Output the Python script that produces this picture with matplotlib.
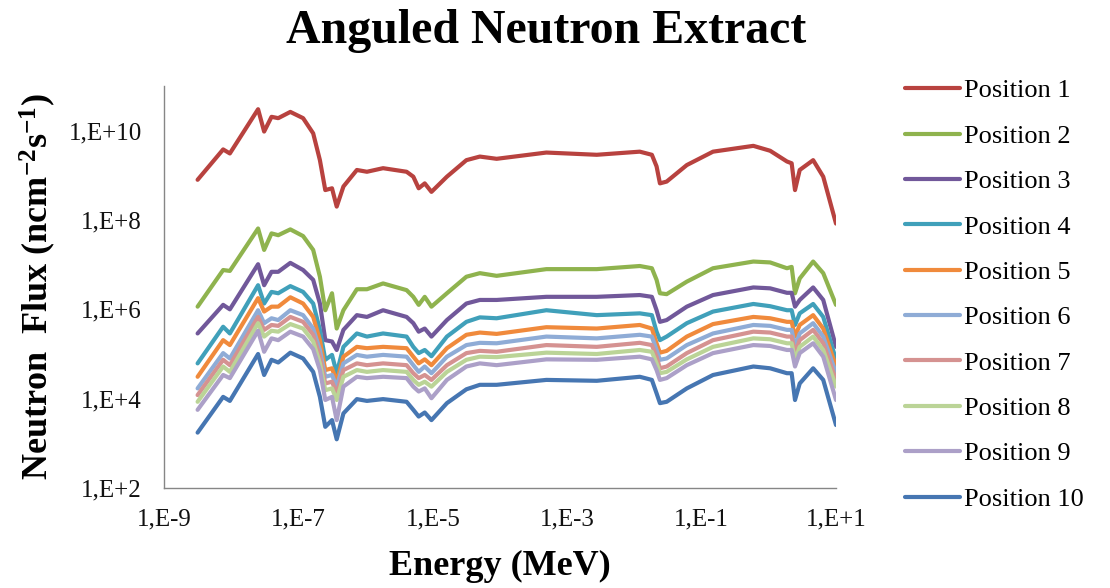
import numpy as np
import matplotlib
matplotlib.use("Agg")
import matplotlib.pyplot as plt
from matplotlib.ticker import FixedLocator, FuncFormatter, NullLocator

# ---- data (log10 of energy in MeV, log10 of flux) ----
energy_exp = [-8.50, -8.12, -8.02, -7.60, -7.51, -7.40, -7.30, -7.12, -6.93, -6.78,
              -6.68, -6.60, -6.50, -6.43, -6.33, -6.13, -5.98, -5.74, -5.39, -5.29,
              -5.21, -5.12, -5.02, -4.79, -4.50, -4.30, -4.05, -3.31, -2.56, -1.92,
              -1.74, -1.67, -1.62, -1.52, -1.22, -0.83, -0.23, 0.02, 0.27, 0.34,
              0.39, 0.46, 0.66, 0.81, 1.00]

pos1 = [8.90, 9.58, 9.49, 10.48, 9.98, 10.31, 10.28, 10.42, 10.28, 9.94,
        9.34, 8.67, 8.71, 8.30, 8.75, 9.12, 9.08, 9.16, 9.08, 8.97,
        8.71, 8.82, 8.63, 8.97, 9.34, 9.42, 9.37, 9.51, 9.46, 9.53,
        9.46, 9.20, 8.82, 8.86, 9.23, 9.53, 9.66, 9.55, 9.31, 9.27,
        8.67, 9.12, 9.34, 8.97, 7.92]
pos2 = [6.06, 6.88, 6.86, 7.81, 7.33, 7.70, 7.66, 7.79, 7.64, 7.33,
        6.73, 5.98, 6.36, 5.57, 5.98, 6.45, 6.45, 6.58, 6.43, 6.28,
        6.10, 6.28, 6.06, 6.36, 6.73, 6.81, 6.75, 6.90, 6.90, 6.97,
        6.92, 6.66, 6.36, 6.34, 6.62, 6.92, 7.07, 7.05, 6.92, 6.95,
        6.36, 6.69, 7.07, 6.81, 6.10]
pos3 = [5.46, 6.10, 6.00, 7.01, 6.54, 6.84, 6.84, 7.04, 6.88, 6.66,
        6.13, 5.31, 5.28, 5.09, 5.54, 5.87, 5.83, 5.98, 5.83, 5.69,
        5.50, 5.57, 5.39, 5.76, 6.13, 6.21, 6.21, 6.28, 6.28, 6.32,
        6.28, 5.98, 5.72, 5.76, 6.06, 6.32, 6.49, 6.47, 6.37, 6.37,
        6.06, 6.21, 6.49, 6.21, 5.16]
pos4 = [4.79, 5.61, 5.46, 6.54, 6.13, 6.39, 6.36, 6.52, 6.39, 6.13,
        5.54, 4.87, 4.98, 4.57, 5.16, 5.46, 5.39, 5.46, 5.39, 5.16,
        5.02, 5.09, 4.95, 5.39, 5.72, 5.82, 5.80, 5.98, 5.87, 5.91,
        5.87, 5.50, 5.31, 5.39, 5.69, 5.95, 6.12, 6.07, 5.98, 5.98,
        5.65, 5.91, 6.12, 5.83, 4.87]
pos5 = [4.49, 5.31, 5.20, 6.25, 5.95, 6.06, 6.06, 6.27, 6.13, 5.83,
        5.31, 4.64, 4.68, 4.38, 4.94, 5.16, 5.13, 5.16, 5.13, 4.94,
        4.79, 4.88, 4.75, 5.13, 5.43, 5.48, 5.45, 5.60, 5.57, 5.65,
        5.57, 5.24, 5.03, 5.07, 5.39, 5.67, 5.83, 5.80, 5.72, 5.72,
        5.39, 5.65, 5.87, 5.57, 4.72]
pos6 = [4.23, 5.02, 4.90, 5.98, 5.69, 5.80, 5.76, 5.98, 5.87, 5.57,
        5.09, 4.49, 4.53, 4.27, 4.79, 4.98, 4.94, 4.98, 4.94, 4.75,
        4.60, 4.72, 4.57, 4.94, 5.20, 5.25, 5.24, 5.39, 5.35, 5.43,
        5.39, 5.09, 4.87, 4.90, 5.20, 5.46, 5.65, 5.63, 5.54, 5.54,
        5.16, 5.46, 5.69, 5.39, 4.57]
pos7 = [4.08, 4.87, 4.75, 5.83, 5.54, 5.65, 5.63, 5.83, 5.72, 5.43,
        4.94, 4.34, 4.38, 4.12, 4.64, 4.79, 4.75, 4.79, 4.75, 4.57,
        4.46, 4.53, 4.42, 4.75, 5.02, 5.07, 5.05, 5.20, 5.16, 5.25,
        5.20, 4.94, 4.68, 4.72, 5.02, 5.31, 5.50, 5.48, 5.39, 5.39,
        5.02, 5.31, 5.54, 5.24, 4.42]
pos8 = [3.93, 4.72, 4.60, 5.69, 5.39, 5.52, 5.50, 5.67, 5.57, 5.28,
        4.79, 4.19, 4.23, 3.97, 4.49, 4.64, 4.60, 4.64, 4.60, 4.42,
        4.31, 4.38, 4.27, 4.60, 4.87, 4.94, 4.93, 5.03, 5.00, 5.09,
        5.05, 4.79, 4.57, 4.60, 4.88, 5.16, 5.35, 5.33, 5.24, 5.24,
        4.87, 5.16, 5.39, 5.09, 4.27]
pos9 = [3.75, 4.53, 4.46, 5.52, 5.05, 5.35, 5.31, 5.50, 5.39, 5.11,
        4.64, 3.97, 4.04, 3.52, 4.27, 4.49, 4.46, 4.49, 4.46, 4.27,
        4.16, 4.23, 4.01, 4.42, 4.72, 4.79, 4.75, 4.88, 4.87, 4.94,
        4.88, 4.64, 4.42, 4.46, 4.75, 5.02, 5.20, 5.18, 5.09, 5.09,
        4.72, 5.02, 5.24, 4.94, 3.97]
pos10 = [3.24, 4.04, 3.95, 5.00, 4.53, 4.87, 4.81, 5.03, 4.90, 4.60,
         4.04, 3.37, 3.52, 3.09, 3.67, 3.99, 3.95, 3.99, 3.93, 3.75,
         3.60, 3.69, 3.52, 3.90, 4.21, 4.31, 4.31, 4.42, 4.40, 4.49,
         4.42, 4.12, 3.90, 3.93, 4.23, 4.53, 4.72, 4.68, 4.57, 4.57,
         3.97, 4.34, 4.68, 4.42, 3.41]

series = [pos1, pos2, pos3, pos4, pos5, pos6, pos7, pos8, pos9, pos10]
labels = [f"Position {i}" for i in range(1, 11)]
colors = ["#B8423F", "#8FB34E", "#71589A", "#40A0BA", "#F08A3C",
          "#8FACD6", "#D59291", "#BBD497", "#ACA0C8", "#4676B2"]

x_ticks_exp = [-9, -7, -5, -3, -1, 1]
y_ticks_exp = [2, 4, 6, 8, 10]

# ---- style ----
plt.rcParams["font.family"] = ["Liberation Serif", "DejaVu Serif"]
plt.rcParams["mathtext.fontset"] = "custom"
plt.rcParams["mathtext.rm"] = "Liberation Serif:bold"
plt.rcParams["mathtext.it"] = "Liberation Serif:bold"
plt.rcParams["mathtext.bf"] = "Liberation Serif:bold"

fig = plt.figure(figsize=(11.10, 5.88), dpi=100)
ax = fig.add_axes([164 / 1110, 1 - 488 / 588, (836 - 164) / 1110, (488 - 86) / 588])

E = 10.0 ** np.array(energy_exp)
for vals, lab, col in zip(series, labels, colors):
    ax.plot(E, 10.0 ** np.array(vals), color=col, lw=3.0, label=lab,
            solid_joinstyle="round", solid_capstyle="round")

ax.set_xscale("log")
ax.set_yscale("log")
ax.set_xlim(1e-9, 1e1)
ax.set_ylim(1e2, 1e11)
ax.xaxis.set_major_locator(FixedLocator([10.0 ** e for e in x_ticks_exp]))
ax.yaxis.set_major_locator(FixedLocator([10.0 ** e for e in y_ticks_exp]))
ax.xaxis.set_minor_locator(NullLocator())
ax.yaxis.set_minor_locator(NullLocator())
fmt = FuncFormatter(lambda v, p: f"1,E{int(round(np.log10(v))):+d}")
ax.xaxis.set_major_formatter(fmt)
ax.yaxis.set_major_formatter(fmt)
ax.tick_params(axis="both", length=0, labelsize=18, colors="#111111")
ax.tick_params(axis="x", pad=15)
ax.tick_params(axis="y", pad=16)

for s in ["top", "right"]:
    ax.spines[s].set_visible(False)
for s in ["left", "bottom"]:
    ax.spines[s].set_color("#868686")
    ax.spines[s].set_linewidth(1.0)

ax.set_xlabel("Energy (MeV)", fontsize=26, fontweight="bold", va="center")
ax.xaxis.set_label_coords(0.5, (488 - 566) / 402)
ax.set_ylabel(r"Neutron  Flux (ncm$^{-2}$s$^{-1}$)", fontsize=26,
              fontweight="bold", va="center")
ax.yaxis.set_label_coords((38 - 164) / 672, 0.5)

fig.text(546 / 1110, 1 - 31 / 588, "Anguled Neutron Extract", fontsize=34.5,
         fontweight="bold", ha="center", va="center")

fig.legend(loc="upper left", bbox_to_anchor=(905 / 1110, 1 - 79 / 588),
           frameon=False, fontsize=19, handlelength=2.1, handletextpad=0.15,
           labelspacing=0.83, borderpad=0, borderaxespad=0)

fig.savefig("out.png", dpi=100)
